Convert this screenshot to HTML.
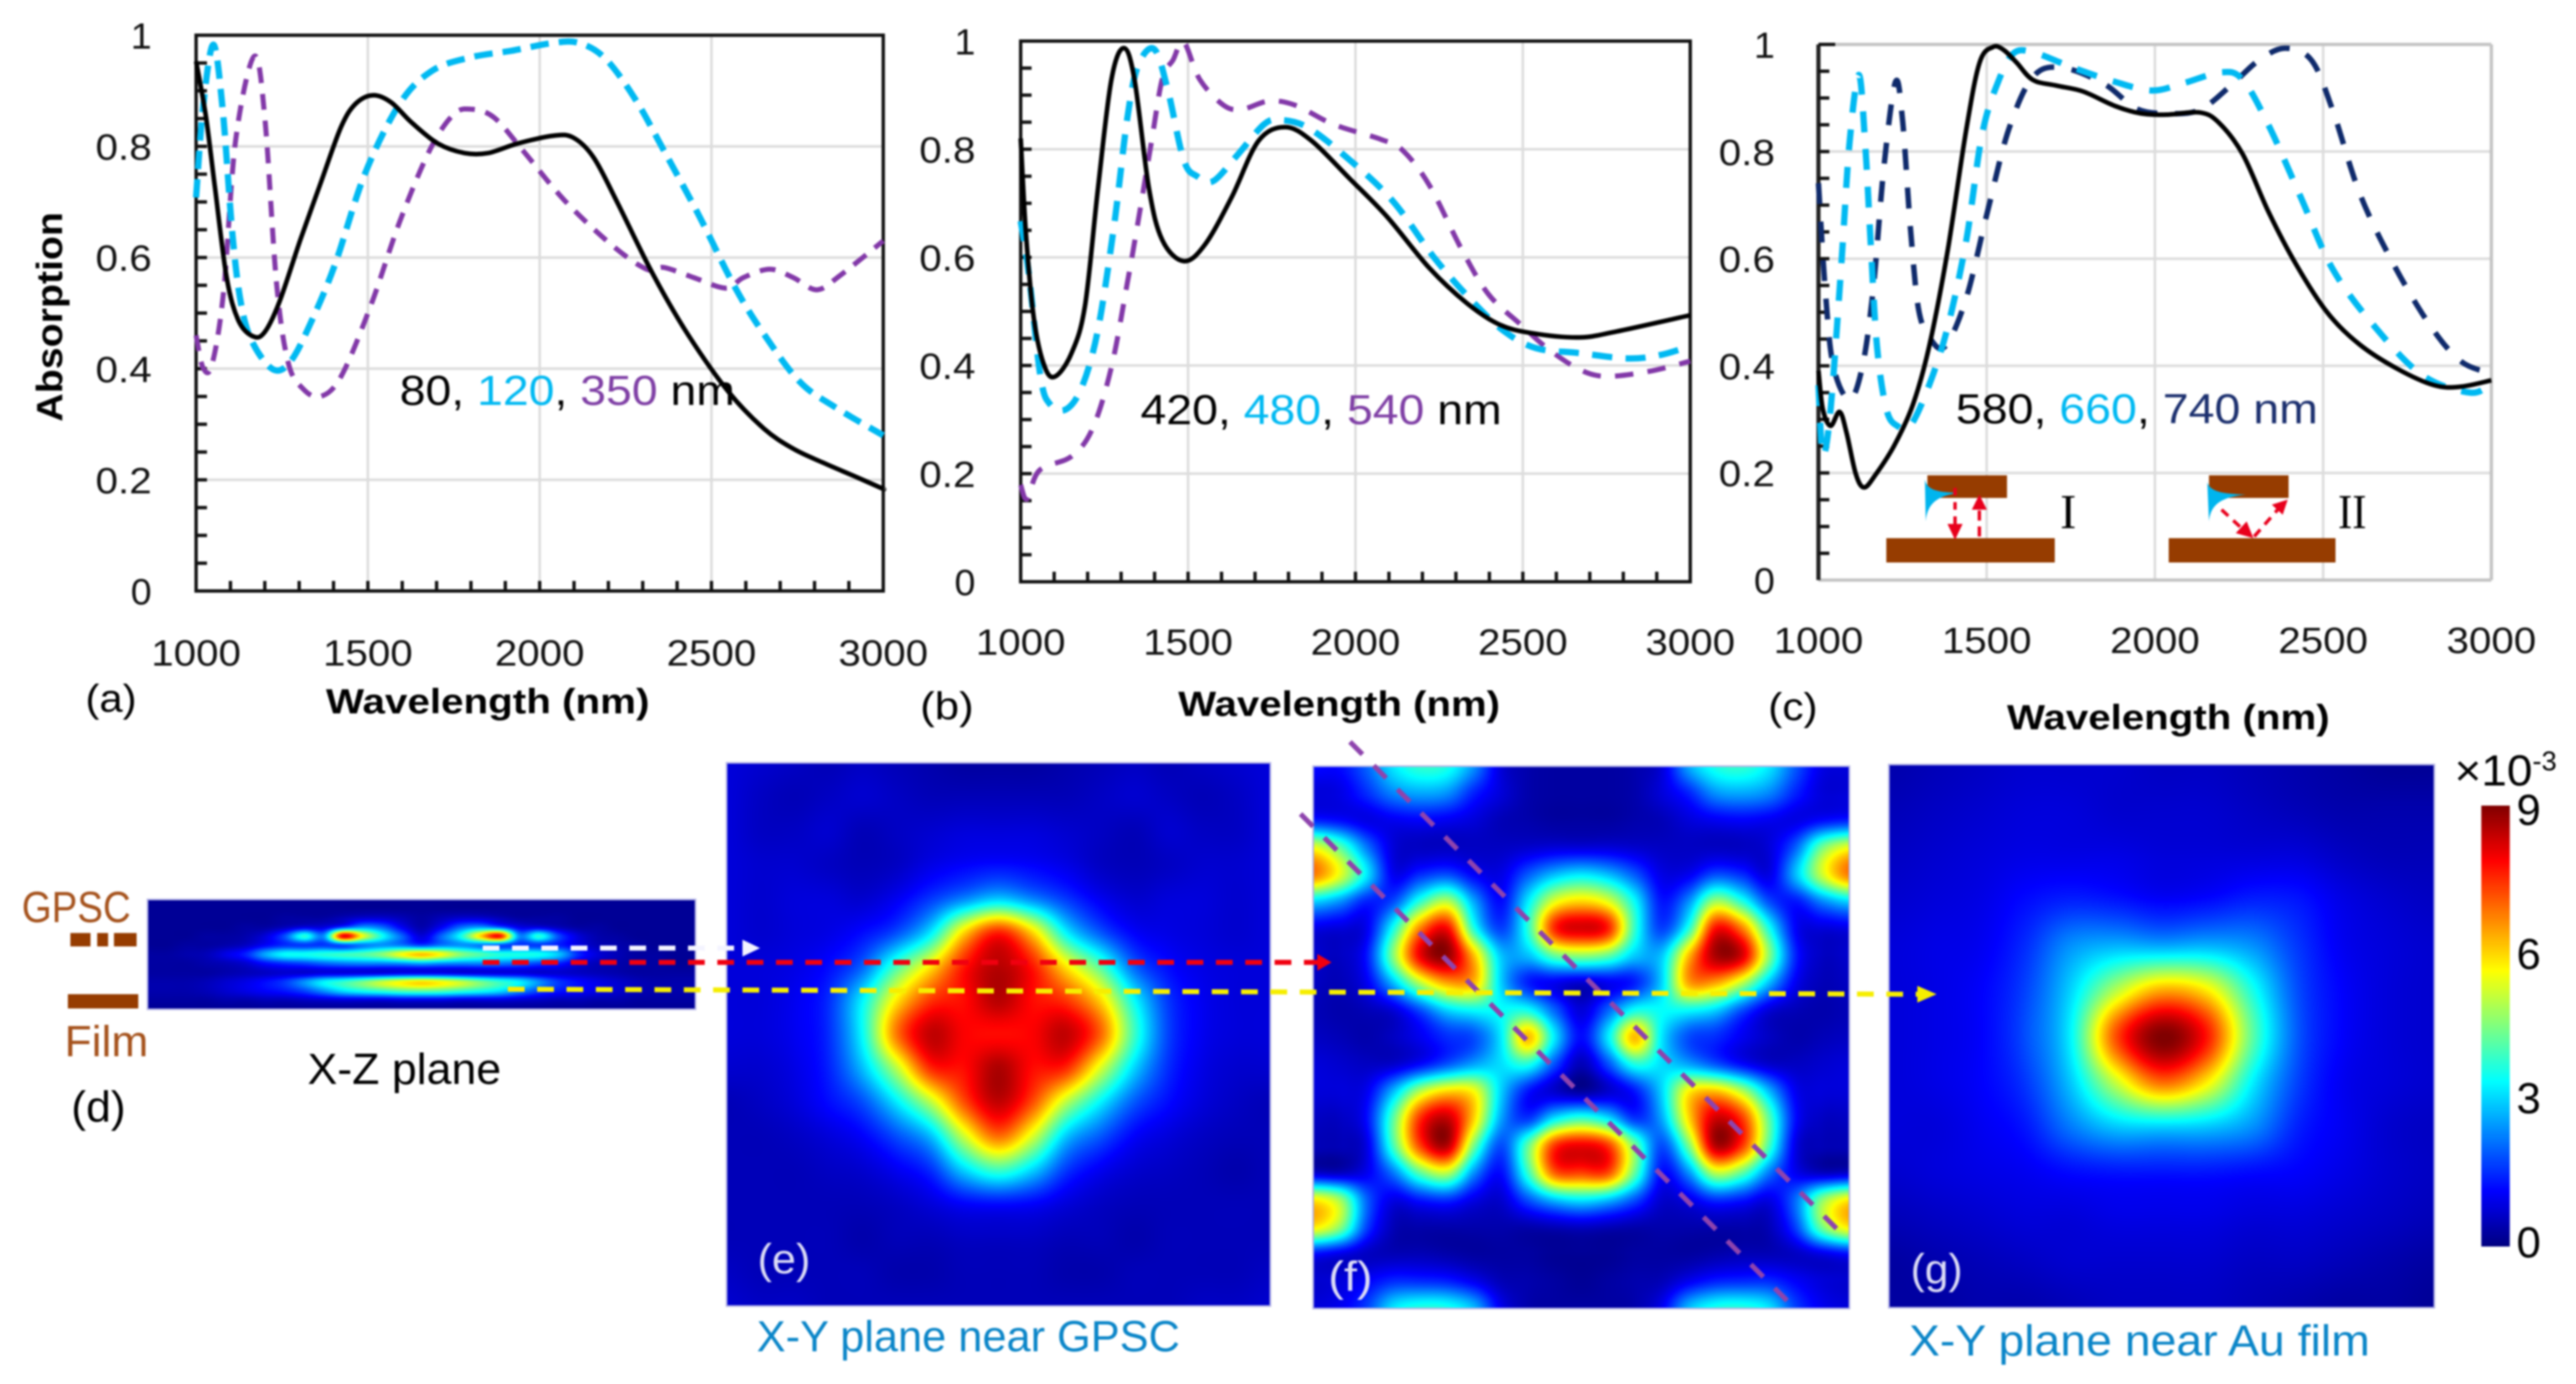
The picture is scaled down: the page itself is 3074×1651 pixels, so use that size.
<!DOCTYPE html>
<html lang="en">
<head>
<meta charset="utf-8">
<title>Absorption spectra and field maps</title>
<style>
html,body{margin:0;padding:0;background:#fff;}
body{width:3074px;height:1651px;overflow:hidden;}
#figure{position:relative;width:3074px;height:1651px;filter:blur(1.1px);font-family:"Liberation Sans",sans-serif;}
canvas{position:absolute;display:block;}
svg{position:absolute;left:0;top:0;}
text{font-family:"Liberation Sans",sans-serif;}
</style>
</head>
<body>
<div id="figure">
<canvas id="map-d" width="654" height="131" style="left:176px;top:1073px"></canvas>
<canvas id="map-e" width="649" height="648" style="left:867px;top:910px"></canvas>
<canvas id="map-f" width="640" height="647" style="left:1567px;top:914px"></canvas>
<canvas id="map-g" width="651" height="648" style="left:2254px;top:912px"></canvas>
<canvas id="colorbar" width="34" height="526" style="left:2961px;top:961px"></canvas>

<svg id="chart" width="3074" height="1651" viewBox="0 0 3074 1651" xmlns="http://www.w3.org/2000/svg">
  <g id="plots"></g>

  <text transform="translate(74,378) rotate(-90)" text-anchor="middle" font-size="44" font-weight="bold" textLength="250" lengthAdjust="spacingAndGlyphs">Absorption</text>
  <text x="389" y="851" font-size="42" font-weight="bold" textLength="386" lengthAdjust="spacingAndGlyphs">Wavelength (nm)</text>
  <text x="1406" y="854" font-size="42" font-weight="bold" textLength="384" lengthAdjust="spacingAndGlyphs">Wavelength (nm)</text>
  <text x="2395" y="870" font-size="42" font-weight="bold" textLength="385" lengthAdjust="spacingAndGlyphs">Wavelength (nm)</text>

  <text x="102" y="849" font-size="46" textLength="61" lengthAdjust="spacingAndGlyphs">(a)</text>
  <text x="1098" y="858" font-size="46" textLength="64" lengthAdjust="spacingAndGlyphs">(b)</text>
  <text x="2110" y="859" font-size="46" textLength="59" lengthAdjust="spacingAndGlyphs">(c)</text>

  <text x="477" y="483" font-size="50" textLength="400" lengthAdjust="spacingAndGlyphs">80, <tspan fill="#00b9f2">120</tspan>, <tspan fill="#7f3fa5">350</tspan> nm</text>
  <text x="1361" y="506" font-size="50" textLength="431" lengthAdjust="spacingAndGlyphs">420, <tspan fill="#00b9f2">480</tspan>, <tspan fill="#7f3fa5">540</tspan> nm</text>
  <text x="2334" y="505" font-size="50" textLength="432" lengthAdjust="spacingAndGlyphs">580, <tspan fill="#00b9f2">660</tspan>, <tspan fill="#1b2f6e">740 nm</tspan></text>

  <g>
    <rect x="2300" y="567" width="95" height="27" fill="#963c00"/>
    <rect x="2251" y="642" width="201" height="29" fill="#963c00"/>
    <path d="M2297,572 C2300,585 2312,587 2336,588 C2312,592 2300,600 2298,622 Z" fill="#00b5ee"/>
    <line x1="2333" y1="582" x2="2333" y2="626" stroke="#e8001c" stroke-width="4" stroke-dasharray="9 8"/>
    <polygon points="2324,625 2342,625 2333,644" fill="#e8001c"/>
    <line x1="2362" y1="640" x2="2362" y2="606" stroke="#e8001c" stroke-width="4" stroke-dasharray="12 7"/>
    <polygon points="2353,608 2371,608 2362,590" fill="#e8001c"/>
    <text x="2468" y="630" text-anchor="middle" font-size="58" style="font-family:'Liberation Serif',serif">I</text>
  </g>
  <g>
    <rect x="2636" y="567" width="95" height="27" fill="#963c00"/>
    <rect x="2588" y="642" width="199" height="29" fill="#963c00"/>
    <path d="M2634,575 C2637,586 2650,589 2680,590 C2650,593 2638,602 2636,622 Z" fill="#00b5ee"/>
    <line x1="2651" y1="608" x2="2676" y2="631" stroke="#e8001c" stroke-width="4" stroke-dasharray="11 8"/>
    <polygon points="2668,636 2681,622 2689,642" fill="#e8001c"/>
    <line x1="2690" y1="640" x2="2718" y2="608" stroke="#e8001c" stroke-width="4" stroke-dasharray="11 8"/>
    <polygon points="2711,602 2724,614 2730,596" fill="#e8001c"/>
    <text x="2807" y="630" text-anchor="middle" font-size="58" style="font-family:'Liberation Serif',serif" textLength="34" lengthAdjust="spacingAndGlyphs">II</text>
  </g>

  <text x="26" y="1100" font-size="52" fill="#a5521c" textLength="130" lengthAdjust="spacingAndGlyphs">GPSC</text>
  <rect x="84" y="1113" width="24" height="16" fill="#963c00"/>
  <rect x="116" y="1113" width="13" height="16" fill="#963c00"/>
  <rect x="136" y="1113" width="27" height="16" fill="#963c00"/>
  <rect x="81" y="1186" width="84" height="17" fill="#963c00"/>
  <text x="77" y="1260" font-size="52" fill="#a5521c" textLength="100" lengthAdjust="spacingAndGlyphs">Film</text>
  <text x="367" y="1293" font-size="52" textLength="231" lengthAdjust="spacingAndGlyphs">X-Z plane</text>
  <text x="85" y="1338" font-size="52" textLength="65" lengthAdjust="spacingAndGlyphs">(d)</text>

  <rect x="176" y="1073" width="654" height="131" fill="none" stroke="#b4b4e6" stroke-width="2"/>
  <rect x="867" y="910" width="649" height="648" fill="none" stroke="#b4b4e6" stroke-width="2"/>
  <rect x="1567" y="914" width="640" height="647" fill="none" stroke="#b4b4e6" stroke-width="2"/>
  <rect x="2254" y="912" width="651" height="648" fill="none" stroke="#b4b4e6" stroke-width="2"/>

  <line x1="1552" y1="971" x2="2139" y2="1558" stroke="#8e44ad" stroke-width="6" stroke-dasharray="21 19"/>
  <line x1="1611" y1="885" x2="2198" y2="1472" stroke="#8e44ad" stroke-width="6" stroke-dasharray="21 19"/>

  <line x1="576" y1="1131" x2="886" y2="1131" stroke="#f4f4ff" stroke-width="6" stroke-dasharray="20 15"/>
  <polygon points="886,1121 907,1131 886,1141" fill="#f4f4ff"/>
  <line x1="576" y1="1148" x2="1572" y2="1148" stroke="#f00010" stroke-width="6" stroke-dasharray="20 15"/>
  <polygon points="1572,1138 1589,1148 1572,1158" fill="#f00010"/>
  <line x1="606" y1="1180" x2="2288" y2="1186" stroke="#f6ee00" stroke-width="6" stroke-dasharray="20 15"/>
  <polygon points="2288,1176 2311,1186 2288,1196" fill="#f6ee00"/>

  <text x="904" y="1519" font-size="50" fill="#dcdcf6" textLength="63" lengthAdjust="spacingAndGlyphs">(e)</text>
  <text x="1585" y="1540" font-size="50" fill="#dcdcf6" textLength="53" lengthAdjust="spacingAndGlyphs">(f)</text>
  <text x="2280" y="1531" font-size="50" fill="#dcdcf6" textLength="62" lengthAdjust="spacingAndGlyphs">(g)</text>

  <text x="903" y="1612" font-size="52" fill="#0a85c8" textLength="505" lengthAdjust="spacingAndGlyphs">X-Y plane near GPSC</text>
  <text x="2278" y="1617" font-size="52" fill="#0a85c8" textLength="550" lengthAdjust="spacingAndGlyphs">X-Y plane near Au film</text>

  <text x="2929" y="937" font-size="52" textLength="93" lengthAdjust="spacingAndGlyphs">×10</text>
  <text x="3022" y="919" font-size="32" textLength="29" lengthAdjust="spacingAndGlyphs">-3</text>
  <g id="colorbar-ticks"></g>
</svg>
</div>

<script>
// Panel (a): 80, 120, 350 nm
const a80Wave=[1000,1029,1055,1089,1123,1166,1200,1243,1303,1362,1422,1465,1516,1568,1627,1704,1781,1850,1935,2038,2097,2157,2226,2328,2431,2550,2653,2738,2824,2918,2995,3000];
const a80Abs=[.953,.852,.725,.564,.487,.458,.466,.521,.631,.733,.835,.877,.892,.879,.843,.805,.788,.788,.805,.819,.816,.78,.699,.572,.462,.358,.292,.256,.231,.206,.185,.184];
const a120Wave=[1000,1020,1050,1077,1106,1132,1166,1226,1277,1337,1405,1491,1593,1687,1798,1918,2038,2115,2191,2277,2362,2465,2568,2653,2756,2859,3000];
const a120Abs=[.708,.869,.983,.869,.64,.513,.445,.398,.415,.487,.589,.75,.877,.936,.96,.972,.986,.986,.958,.886,.792,.674,.547,.462,.377,.331,.28];
const a350Wave=[1000,1020,1046,1080,1115,1169,1200,1234,1268,1311,1362,1422,1508,1593,1679,1747,1798,1867,1952,2072,2209,2311,2362,2448,2542,2593,2670,2738,2807,2875,3000];
const a350Abs=[.46,.402,.407,.538,.81,.962,.852,.555,.411,.364,.35,.386,.513,.665,.792,.856,.867,.852,.792,.703,.623,.579,.582,.564,.545,.564,.579,.564,.542,.568,.63];
// Panel (b): 420, 480, 540 nm
const b420Wave=[1000,1016,1040,1072,1104,1152,1192,1231,1271,1308,1340,1383,1423,1487,1551,1630,1710,1790,1870,1982,2093,2221,2333,2429,2525,2668,2780,3000];
const b420Abs=[.82,.641,.484,.397,.38,.423,.51,.728,.929,.987,.929,.728,.632,.593,.624,.711,.815,.841,.815,.746,.676,.58,.515,.476,.46,.452,.463,.493];
const b480Wave=[1000,1024,1059,1088,1136,1184,1231,1279,1319,1351,1399,1439,1487,1527,1575,1647,1727,1775,1855,1966,2109,2237,2349,2445,2540,2668,2812,2908,3000];
const b480Abs=[.667,.571,.38,.328,.319,.362,.467,.659,.859,.955,.985,.911,.78,.75,.741,.789,.846,.854,.841,.789,.706,.598,.519,.463,.432,.423,.413,.419,.436];
const b540Wave=[1000,1019,1056,1152,1215,1271,1319,1351,1391,1423,1455,1487,1535,1607,1662,1742,1822,1934,2077,2141,2221,2317,2397,2493,2573,2668,2748,2876,3000];
const b540Abs=[.179,.153,.206,.232,.284,.397,.554,.667,.815,.93,.965,.998,.929,.881,.874,.889,.881,.846,.818,.798,.733,.615,.532,.476,.432,.393,.38,.389,.408];
// Panel (c): 580, 660, 740 nm
const c580Wave=[1000,1013,1036,1063,1084,1111,1136,1171,1226,1281,1329,1384,1439,1479,1518,1550,1589,1637,1708,1787,1882,1960,2039,2134,2190,2261,2338,2420,2513,2608,2719,2829,2908,3000];
const c580Abs=[.391,.319,.288,.314,.274,.198,.173,.198,.252,.328,.436,.615,.84,.966,.995,.99,.966,.934,.923,.912,.885,.871,.869,.873,.854,.795,.687,.589,.499,.44,.395,.364,.361,.373];
const c660Wave=[1000,1013,1036,1068,1092,1120,1139,1155,1174,1202,1234,1273,1329,1384,1439,1486,1534,1581,1644,1755,1882,1992,2087,2197,2261,2338,2434,2529,2655,2796,2938,3000];
const c660Abs=[.364,.234,.319,.589,.813,.943,.813,.633,.436,.319,.288,.288,.364,.472,.633,.831,.93,.984,.984,.957,.93,.914,.928,.948,.934,.849,.714,.58,.472,.382,.35,.368];
const c740Wave=[1000,1020,1044,1092,1131,1163,1194,1229,1250,1273,1297,1329,1376,1439,1502,1565,1637,1723,1850,1945,2039,2134,2229,2308,2387,2466,2529,2608,2703,2813,2908,3000];
const c740Abs=[.741,.544,.40,.337,.40,.544,.768,.93,.858,.66,.508,.454,.436,.526,.687,.84,.939,.957,.926,.88,.871,.878,.925,.97,.993,.97,.876,.723,.597,.48,.409,.386];
// Shared axis ticks
const xTickValues=[1000,1500,2000,2500,3000];
const yTickValues=[0,0.2,0.4,0.6,0.8,1];
const yTickLabels=['0','0.2','0.4','0.6','0.8','1'];
const xMinorStep=100;
const yMinorStep=0.05;
// Colorbar ticks
const colorbarTicks=[0,3,6,9];
// Field maps, values in units of 10^-3
const fieldD=[
[.2,.2,.2,.2,.2,.2,.2,.2,.2,.2,.2,.2,.2,.2,.2,.2,.2,.2,.2,.2,.2,.2,.2,.2,.2,.2,.2,.2,.2],
[.2,.2,.2,.2,.2,.2,.2,.2,.2,.2,.2,.2,.2,.2,.2,.2,.2,.2,.2,.2,.2,.2,.2,.2,.2,.2,.2,.2,.2],
[.2,.2,.2,.2,.2,.2,.2,.3,.3,.3,.5,.7,.7,.5,.3,.5,.7,.7,.5,.3,.3,.3,.2,.2,.2,.2,.2,.2,.2],
[.2,.2,.2,.2,.2,.3,.3,.5,.8,.8,1.6,2.4,2.0,1.0,.4,1.0,2.0,2.4,1.8,.9,.8,.5,.3,.3,.2,.2,.2,.2,.2],
[.2,.2,.2,.3,.3,.4,.8,1.8,3.7,2.4,8.0,5.5,3.5,2.0,.8,2.0,3.5,6.0,7.8,2.4,3.7,1.8,.8,.4,.3,.2,.2,.2,.2],
[.2,.2,.3,.3,.4,.6,1.1,1.5,1.6,1.6,1.8,2.2,2.4,2.2,1.7,2.2,2.4,2.2,1.8,1.6,1.6,1.4,.9,.5,.4,.3,.2,.2,.2],
[.3,.3,.4,.5,.9,1.4,2.6,3.4,3.5,3.7,3.9,4.1,4.6,5.6,6.2,5.6,4.6,4.1,3.7,3.6,3.5,2.9,1.5,.8,.5,.3,.3,.2,.2],
[.3,.3,.3,.4,.5,.7,1.2,1.5,1.7,2.0,2.2,2.3,2.3,2.4,2.6,2.4,2.3,2.3,2.2,2.0,1.7,1.4,.8,.5,.4,.3,.3,.2,.2],
[.3,.3,.3,.3,.4,.5,.6,.7,.7,.8,.8,.8,.8,.9,.9,.9,.8,.8,.8,.8,.7,.7,.6,.5,.4,.3,.3,.3,.3],
[.4,.4,.4,.5,.7,.9,1.2,1.6,2.4,3.3,3.8,4.4,5.1,5.6,5.9,5.6,5.1,4.4,3.8,3.3,2.4,1.6,1.2,.9,.7,.5,.4,.4,.4],
[.4,.4,.4,.5,.7,.9,1.1,1.3,1.7,2.4,3.1,3.5,3.8,4.1,4.2,4.1,3.8,3.5,3.1,2.4,1.7,1.3,1.1,.9,.7,.5,.4,.4,.4],
[.3,.3,.3,.3,.4,.4,.5,.5,.6,.7,.8,.8,.8,.9,.9,.9,.8,.8,.8,.7,.6,.5,.5,.4,.4,.3,.3,.3,.3],
[.2,.2,.2,.2,.2,.2,.2,.2,.2,.2,.2,.2,.2,.2,.2,.2,.2,.2,.2,.2,.2,.2,.2,.2,.2,.2,.2,.2,.2]
];
const fieldE=[
[.8,.7,.6,.5,.6,.5,.4,.3,.3,.3,.4,.5,.6,.5,.6,.7,.8],
[.8,.6,.5,.6,.7,.6,.5,.5,.5,.5,.5,.6,.7,.6,.5,.6,.8],
[.8,.6,.6,.7,.5,.6,.7,.8,.8,.8,.7,.6,.5,.7,.6,.6,.8],
[.8,.7,.7,.6,.5,.6,.9,1.1,1.2,1.1,.9,.6,.5,.6,.7,.7,.8],
[.8,.7,.8,.8,.7,1.0,1.6,2.3,2.9,2.3,1.6,1.0,.7,.8,.8,.7,.8],
[.8,.7,.8,.9,1.2,1.8,3.2,6.0,7.6,6.0,3.3,1.9,1.1,.9,.8,.7,.8],
[.8,.8,.9,1.2,2.0,4.0,5.8,7.7,8.5,7.7,5.8,4.1,2.0,1.2,.9,.8,.8],
[.8,.8,1.0,1.5,3.3,5.8,7.4,7.8,8.5,7.8,7.4,6.0,3.4,1.6,1.0,.8,.8],
[.8,.8,1.0,1.5,3.4,6.8,8.4,7.9,7.8,7.9,8.4,7.0,3.9,1.7,1.0,.8,.8],
[.7,.7,.9,1.4,2.8,5.0,7.5,7.8,8.6,7.8,7.5,5.3,3.0,1.5,.9,.7,.7],
[.5,.6,.8,1.2,1.8,3.2,5.0,7.2,8.4,7.2,5.0,3.3,1.9,1.2,.8,.6,.5],
[.5,.5,.6,.8,1.1,1.8,2.8,5.2,6.9,5.3,2.9,1.9,1.1,.8,.6,.5,.5],
[.5,.5,.5,.6,.7,1.0,1.5,3.0,3.9,3.0,1.6,1.0,.7,.6,.5,.4,.5],
[.5,.5,.5,.5,.5,.6,.8,1.1,1.2,1.1,.8,.6,.5,.5,.5,.5,.5],
[.5,.5,.5,.5,.4,.5,.5,.6,.6,.6,.5,.5,.4,.5,.5,.5,.5],
[.6,.5,.5,.5,.5,.4,.4,.5,.5,.5,.4,.4,.5,.5,.5,.5,.6],
[.7,.6,.6,.5,.5,.5,.5,.5,.5,.5,.5,.5,.5,.5,.6,.6,.7]
];
const fieldF=[
[1.2,1.2,2.0,3.2,3.8,3.6,2.4,.8,.4,.3,.3,.3,.4,.8,2.6,3.6,3.8,3.2,1.9,.9,.8],
[.8,.9,1.5,2.3,2.6,2.4,1.4,.8,.4,.3,.3,.3,.4,.8,1.4,2.4,2.6,2.3,1.4,.8,.8],
[1.4,1.2,.9,1.0,1.1,1.0,.8,.5,.4,.3,.3,.3,.4,.5,.8,1.0,1.1,1.0,.9,1.2,1.4],
[5.5,4.2,2.2,.8,.6,.6,.6,.6,.7,.8,.8,.8,.7,.6,.6,.6,.6,.8,2.0,4.4,5.5],
[6.8,5.4,3.2,1.0,1.5,1.8,1.1,.9,1.9,2.8,3.2,2.8,1.9,.9,1.0,1.8,1.5,.9,2.8,5.2,6.8],
[3.0,2.4,1.4,1.8,3.8,5.0,2.6,1.2,3.2,5.4,6.0,5.4,3.4,1.3,2.4,4.8,3.7,1.8,1.3,2.3,3.0],
[.9,.8,1.0,3.6,6.8,7.9,3.7,1.7,3.7,7.5,8.2,7.6,3.8,1.7,3.7,7.8,6.8,3.6,1.1,.8,.9],
[.7,.6,1.3,4.6,8.0,8.8,6.2,2.9,2.8,4.2,4.6,4.2,2.9,2.9,6.2,8.6,8.2,4.6,1.4,.6,.7],
[.6,.5,1.0,2.8,5.0,6.4,6.2,3.0,1.4,1.0,.7,1.0,1.4,3.0,6.4,6.4,5.0,2.8,1.0,.5,.6],
[.5,.4,.5,.8,1.8,3.0,3.4,3.4,3.5,2.0,.8,2.0,3.5,3.4,3.4,3.0,1.8,.8,.5,.4,.5],
[.6,.5,.4,.6,1.0,1.5,1.8,3.2,6.2,3.2,1.2,3.2,6.2,3.2,1.8,1.5,1.0,.6,.4,.5,.6],
[.8,.7,.6,.7,1.2,1.9,2.6,3.1,3.6,1.8,.5,1.8,3.6,3.1,2.6,1.9,1.2,.7,.6,.7,.8],
[.8,.8,1.0,2.8,5.0,6.0,5.6,3.0,1.3,.7,.3,.7,1.3,3.0,5.7,6.2,5.0,2.8,1.0,.8,.8],
[.6,.6,1.2,4.2,7.5,8.4,6.0,2.6,1.6,3.2,3.9,3.2,1.6,2.6,5.9,8.3,7.4,4.2,1.2,.6,.6],
[.5,.5,.9,4.0,7.3,8.5,4.4,1.8,4.2,7.4,8.0,7.4,4.4,1.8,4.4,8.5,7.4,4.0,.9,.5,.5],
[.7,.6,1.0,2.2,4.2,5.0,2.4,1.2,3.8,7.0,7.3,7.2,4.2,1.2,2.4,5.0,4.2,2.2,1.0,.6,.7],
[5.8,4.8,2.0,.9,1.3,1.5,.9,.7,1.8,2.8,3.2,2.8,1.8,.7,.9,1.5,1.3,.9,2.1,4.6,5.8],
[5.8,4.6,1.7,.5,.4,.4,.4,.4,.4,.5,.6,.5,.4,.4,.4,.4,.4,.5,1.7,4.4,5.8],
[1.2,.9,.6,.5,.5,.4,.3,.3,.3,.2,.2,.2,.3,.3,.3,.4,.5,.5,.6,.9,1.2],
[.7,.8,1.1,1.5,1.5,1.4,1.0,.5,.4,.3,.2,.3,.4,.5,1.0,1.4,1.5,1.5,1.1,.8,.7],
[.8,1.0,1.7,3.2,3.7,3.6,2.8,1.0,.4,.3,.3,.3,.4,1.0,2.8,3.6,3.7,3.2,1.7,1.0,.8]
];
const fieldG=[
[.4,.5,.6,.7,.7,.7,.6,.6,.5,.4,.3,.2,.2],
[.5,.6,.7,.8,.8,.7,.7,.7,.6,.5,.4,.4,.4],
[.6,.7,.8,.9,.9,.9,.8,.8,.8,.8,.6,.5,.5],
[.7,.8,.9,1.2,1.4,1.3,1.1,1.2,1.4,1.3,.9,.7,.6],
[.8,.9,1.0,1.5,2.4,2.7,2.6,2.7,2.4,1.6,1.0,.8,.7],
[.8,.9,1.1,1.7,3.0,5.0,6.4,5.8,3.6,1.8,1.1,.8,.7],
[.8,.9,1.1,1.8,3.3,7.2,9.0,7.7,4.2,1.9,1.1,.8,.7],
[.8,.9,1.1,1.6,2.9,5.2,7.0,5.8,3.3,1.7,1.0,.8,.7],
[.8,.8,1.0,1.3,2.2,2.9,3.0,2.9,2.4,1.4,1.0,.7,.6],
[.7,.8,.9,1.0,1.2,1.3,1.3,1.3,1.2,1.1,.9,.7,.6],
[.5,.6,.7,.8,.8,.9,.9,.9,.8,.8,.7,.6,.5],
[.3,.4,.5,.6,.7,.7,.7,.7,.6,.6,.5,.4,.3],
[.3,.3,.4,.4,.5,.6,.6,.6,.5,.4,.3,.3,.2]
];

const SVGNS='http://www.w3.org/2000/svg';
const COLOR_BLACK='#000000',COLOR_CYAN='#00b9f2',COLOR_PURPLE='#8238a8',COLOR_NAVY='#0f2a6b';

function clamp01(v){return v<0?0:v>1?1:v;}
function jet(value){
  const t=clamp01(value/9);
  return [
    Math.round(255*clamp01(1.5-Math.abs(4*t-3))),
    Math.round(255*clamp01(1.5-Math.abs(4*t-2))),
    Math.round(255*clamp01(1.5-Math.abs(4*t-1)))
  ];
}
function cubic(p0,p1,p2,p3,t){
  return p1+0.5*t*(p2-p0+t*(2*p0-5*p1+4*p2-p3+t*(3*(p1-p2)+p3-p0)));
}
function sampleField(field,u,v){
  const rows=field.length,cols=field[0].length;
  const fy=v*(rows-1),fx=u*(cols-1);
  const iy=Math.min(Math.floor(fy),rows-2),ix=Math.min(Math.floor(fx),cols-2);
  const ty=fy-iy,tx=fx-ix;
  const vals=[];
  for(let k=-1;k<=2;k++){
    const r=field[Math.max(0,Math.min(rows-1,iy+k))];
    vals.push(cubic(r[Math.max(0,ix-1)],r[ix],r[ix+1],r[Math.min(cols-1,ix+2)],tx));
  }
  return cubic(vals[0],vals[1],vals[2],vals[3],ty);
}
function drawField(id,field){
  const cv=document.getElementById(id);
  const ctx=cv.getContext('2d');
  const img=ctx.createImageData(cv.width,cv.height);
  let p=0;
  for(let y=0;y<cv.height;y++){
    for(let x=0;x<cv.width;x++){
      const c=jet(sampleField(field,(x+.5)/cv.width,(y+.5)/cv.height));
      img.data[p++]=c[0];img.data[p++]=c[1];img.data[p++]=c[2];img.data[p++]=255;
    }
  }
  ctx.putImageData(img,0,0);
}
drawField('map-d',fieldD);
drawField('map-e',fieldE);
drawField('map-f',fieldF);
drawField('map-g',fieldG);

(function drawColorbar(){
  const cv=document.getElementById('colorbar');
  const ctx=cv.getContext('2d');
  for(let y=0;y<cv.height;y++){
    const c=jet(9*(1-(y+.5)/cv.height));
    ctx.fillStyle='rgb('+c.join(',')+')';
    ctx.fillRect(0,y,cv.width,1);
  }
  const g=document.getElementById('colorbar-ticks');
  colorbarTicks.forEach(function(tick){
    const yPos=1482-(tick/9)*516;
    const t=document.createElementNS(SVGNS,'text');
    
    
    t.setAttribute('x',3003);
    t.setAttribute('y',yPos+18);
    t.setAttribute('font-size',52);
    t.setAttribute('textLength',29);
    t.setAttribute('lengthAdjust','spacingAndGlyphs');
    t.textContent=String(tick);
    g.appendChild(t);
  });
})();

function smoothPath(xs,ys){
  let d='M'+xs[0].toFixed(1)+','+ys[0].toFixed(1);
  for(let i=0;i<xs.length-1;i++){
    const x0=xs[Math.max(0,i-1)],y0=ys[Math.max(0,i-1)];
    const x1=xs[i],y1=ys[i],x2=xs[i+1],y2=ys[i+1];
    const x3=xs[Math.min(xs.length-1,i+2)],y3=ys[Math.min(xs.length-1,i+2)];
    const c1x=x1+(x2-x0)/6,c1y=y1+(y2-y0)/6,c2x=x2-(x3-x1)/6,c2y=y2-(y3-y1)/6;
    d+=' C'+c1x.toFixed(1)+','+c1y.toFixed(1)+' '+c2x.toFixed(1)+','+c2y.toFixed(1)+' '+x2.toFixed(1)+','+y2.toFixed(1);
  }
  return d;
}

function drawLine(parent,name,x1,y1,x2,y2,color,width){
  const l=document.createElementNS(SVGNS,'line');
  
  
  l.setAttribute('x1',x1);l.setAttribute('y1',y1);l.setAttribute('x2',x2);l.setAttribute('y2',y2);
  l.setAttribute('stroke',color);l.setAttribute('stroke-width',width);
  parent.appendChild(l);
}
function drawLabel(parent,name,x,y,anchor,width,str){
  const t=document.createElementNS(SVGNS,'text');
  
  
  t.setAttribute('x',x);t.setAttribute('y',y);
  t.setAttribute('text-anchor',anchor);
  t.setAttribute('font-size',44);
  t.setAttribute('textLength',width);
  t.setAttribute('lengthAdjust','spacingAndGlyphs');
  t.setAttribute('fill','#111');
  t.textContent=str;
  parent.appendChild(t);
}
function drawSeries(parent,name,xScale,yScale,wave,abs,color,dash,width){
  const p=document.createElementNS(SVGNS,'path');
  
  
  p.setAttribute('d',smoothPath(wave.map(xScale),abs.map(yScale)));
  p.setAttribute('fill','none');
  p.setAttribute('stroke',color);
  p.setAttribute('stroke-width',width);
  p.setAttribute('stroke-linejoin','round');
  if(dash){p.setAttribute('stroke-dasharray',dash);}
  parent.appendChild(p);
}

function drawPanel(cfg){
  const root=document.getElementById('plots');
  const g=document.createElementNS(SVGNS,'g');
  
  
  root.appendChild(g);
  const xScale=function(w){return cfg.left+(w-1000)/2000*(cfg.right-cfg.left);};
  const yScale=function(a){return cfg.bottom-a*(cfg.bottom-cfg.top);};
  xTickValues.forEach(function(w){
    if(w>1000&&w<3000){drawLine(g,'x-gridline',xScale(w),cfg.top,xScale(w),cfg.bottom,'#dcdcdc',3);}
  });
  yTickValues.forEach(function(a){
    if(a>0&&a<1){drawLine(g,'y-gridline',cfg.left,yScale(a),cfg.right,yScale(a),'#dcdcdc',3);}
  });
  if(cfg.grayFrame){
    drawLine(g,'frame-top',cfg.left,cfg.top,cfg.right,cfg.top,'#c4c4c4',4);
    drawLine(g,'frame-right',cfg.right,cfg.top,cfg.right,cfg.bottom,'#c4c4c4',4);
    drawLine(g,'frame-bottom',cfg.left,cfg.bottom,cfg.right,cfg.bottom,'#c4c4c4',4);
    drawLine(g,'frame-left',cfg.left,cfg.top,cfg.left,cfg.bottom,'#222',5);
  }else{
    drawLine(g,'frame-top',cfg.left-2,cfg.top,cfg.right+2,cfg.top,'#111',4);
    drawLine(g,'frame-right',cfg.right,cfg.top,cfg.right,cfg.bottom,'#111',4);
    drawLine(g,'frame-bottom',cfg.left-2,cfg.bottom,cfg.right+2,cfg.bottom,'#111',4);
    drawLine(g,'frame-left',cfg.left,cfg.top,cfg.left,cfg.bottom,'#111',4);
    for(let w=1000+xMinorStep;w<3000;w+=xMinorStep){
      drawLine(g,'x-tick',xScale(w),cfg.bottom,xScale(w),cfg.bottom-12,'#111',4);
    }
  }
  for(let i=1;i<20;i++){
    drawLine(g,'y-tick',cfg.left,yScale(i*yMinorStep),cfg.left+13,yScale(i*yMinorStep),'#111',4);
  }
  if(cfg.grayFrame){drawLine(g,'y-tick-top',cfg.left,cfg.top,cfg.left+20,cfg.top,'#111',4);}
  xTickValues.forEach(function(w){
    drawLabel(g,'x-tick-label',xScale(w),cfg.xLabelY,'middle',107,String(w));
  });
  yTickValues.forEach(function(a,i){
    const s=yTickLabels[i];
    drawLabel(g,'y-tick-label',cfg.yLabelX,yScale(a)+16,'end',s.length===1?25:67,s);
  });
  cfg.series.forEach(function(s){
    drawSeries(g,s.name,xScale,yScale,s.wave,s.abs,s.color,s.dash,s.width);
  });
}

drawPanel({id:'a',left:234,right:1054,top:42,bottom:705,xLabelY:794,yLabelX:181,series:[
  {name:'series-350nm',wave:a350Wave,abs:a350Abs,color:COLOR_PURPLE,dash:'19 13',width:6},
  {name:'series-120nm',wave:a120Wave,abs:a120Abs,color:COLOR_CYAN,dash:'22 12',width:7.5},
  {name:'series-80nm',wave:a80Wave,abs:a80Abs,color:COLOR_BLACK,width:5.5}
]});
drawPanel({id:'b',left:1218,right:2017,top:49,bottom:694,xLabelY:781,yLabelX:1164,series:[
  {name:'series-540nm',wave:b540Wave,abs:b540Abs,color:COLOR_PURPLE,dash:'22 17',width:6},
  {name:'series-480nm',wave:b480Wave,abs:b480Abs,color:COLOR_CYAN,dash:'24 16',width:7.5},
  {name:'series-420nm',wave:b420Wave,abs:b420Abs,color:COLOR_BLACK,width:5.5}
]});
drawPanel({id:'c',left:2170,right:2973,top:53,bottom:692,xLabelY:779,yLabelX:2118,grayFrame:true,series:[
  {name:'series-740nm',wave:c740Wave,abs:c740Abs,color:COLOR_NAVY,dash:'25 21',width:6.5},
  {name:'series-660nm',wave:c660Wave,abs:c660Abs,color:COLOR_CYAN,dash:'25 20',width:7.5},
  {name:'series-580nm',wave:c580Wave,abs:c580Abs,color:COLOR_BLACK,width:5.5}
]});
</script>
</body>
</html>
